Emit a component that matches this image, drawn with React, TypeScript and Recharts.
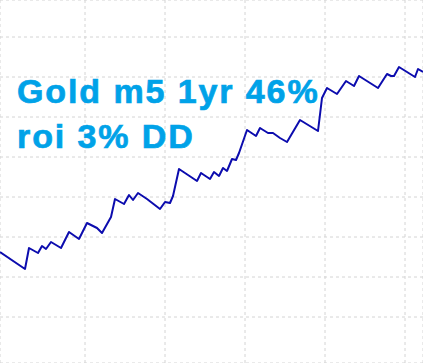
import { CartesianGrid, Line, LineChart, XAxis, YAxis } from "recharts";

// equity curve: week of the year, balance (k)
const weeks = [
  0, 3.125, 3.625, 4.75, 5.25, 5.75, 6.375, 7.625, 8.625, 9.875, 10.875, 12.125, 12.75,
  13.875, 14.375, 15.5, 16.125, 16.625, 17.25, 18.375, 20, 20.625, 21.25, 21.625, 22.375,
  23.5, 24.625, 25.125, 26.25, 26.75, 27.375, 27.875, 28.375, 29, 29.5, 29.875, 30.875, 32,
  32.5, 33.5, 34.125, 35, 35.875, 37.5, 39.75, 40.25, 40.875, 42.125, 43.25, 44.25, 44.875,
  47.25, 48.375, 48.875, 49.25, 49.875, 51.875, 52.25, 52.875,
];
const balance = [
  13.125, 11, 13.625, 13, 13.875, 13.5, 14.375, 13.625, 15.625, 14.75, 16.75, 16.125, 15.5,
  17.5, 19.75, 19.125, 20.25, 19.625, 20.5, 19.75, 18.5, 19.375, 19.25, 20.125, 23.5, 22.75,
  22, 23, 22.25, 23.125, 22.625, 23.625, 23.25, 24.75, 24.625, 25.5, 28.375, 27.625, 28.625,
  28, 28, 27.375, 26.875, 29.625, 28.25, 32.375, 33.625, 32.875, 34.5, 33.875, 35.125,
  33.625, 35.375, 35.125, 35.125, 36.25, 35, 36, 35.625,
];
const weekTicks = [0.625, 5.625, 10.625, 15.625, 20.625, 25.625, 30.625, 35.625, 40.625, 45.625, 50.625];
const balanceTicks = [0, 5, 10, 15, 20, 25, 30, 35, 40];
const titleLines = ["Gold m5 1yr 46%", "roi 3% DD"];

const data = weeks.map((w, i) => ({ week: w, balance: balance[i] }));

export default function App() {
  return (
    <div style={{ position: "absolute", left: 0, top: 0, width: 423, height: 363, background: "#fff" }}>
      <LineChart width={423} height={363} data={data} margin={{ top: 0, right: 0, bottom: 0, left: 0 }}>
        <CartesianGrid stroke="#d4d4d4" strokeDasharray="3 3" />
        <XAxis dataKey="week" type="number" domain={[0, 52.875]} ticks={weekTicks} hide />
        <YAxis type="number" domain={[-0.75, 44.625]} ticks={balanceTicks} hide />
        <Line
          dataKey="balance"
          type="linear"
          stroke="#0c0cae"
          strokeWidth={2}
          strokeLinejoin="round"
          dot={false}
          activeDot={false}
          isAnimationActive={false}
        />
      </LineChart>
      <div
        style={{
          position: "absolute",
          left: 17,
          top: 69,
          fontFamily: "'Liberation Sans', Arial, sans-serif",
          fontWeight: 700,
          fontSize: 34,
          lineHeight: "45px",
          letterSpacing: 1.9,
          color: "#00a2e8",
          WebkitTextStroke: "0.7px #00a2e8",
          whiteSpace: "nowrap",
        }}
      >
        {titleLines.map((t) => (
          <div key={t}>{t}</div>
        ))}
      </div>
    </div>
  );
}
